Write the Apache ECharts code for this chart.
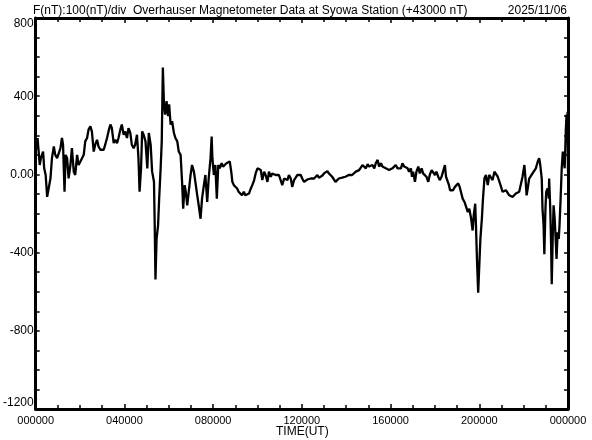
<!DOCTYPE html>
<html><head><meta charset="utf-8">
<script src="https://cdn.jsdelivr.net/npm/echarts@6/dist/echarts.min.js"></script>
<style>html,body{margin:0;padding:0;background:#fff}#c{width:592px;height:440px}</style>
</head><body><div id="c"></div>
<script>
const titleLeft = 'F(nT):100(nT)/div  Overhauser Magnetometer Data at Syowa Station (+43000 nT)';
const titleRight = '2025/11/06';
const xAxisTitle = 'TIME(UT)';
const xTickLabels = ['000000','040000','080000','120000','160000','200000','000000'];
const yTickLabels = ['800','400','0.00','-400','-800','-1200'];

// time of day in minutes (UT)
const minutes = [
0,2,5,11,14,20,23,27,31,35,40,44,49,53,58,62,67,71,74,78,81,85,89,94,98,103,107,112,116,121,
125,130,134,139,143,148,152,157,161,166,170,175,179,184,188,193,197,202,206,211,215,220,224,229,233,238,242,247,251,256,
260,265,269,274,278,281,285,288,292,297,302,306,311,315,320,322,324,327,331,334,338,341,344,347,350,354,358,361,365,369,
374,378,383,387,392,396,399,403,406,410,414,419,423,428,432,437,441,446,450,455,459,464,468,473,476,478,482,486,490,494,
498,503,507,512,516,521,525,529,532,536,540,545,549,554,558,563,567,572,577,582,586,591,595,600,604,609,613,618,622,627,
631,636,640,645,649,654,658,663,667,672,676,681,685,690,694,699,703,708,712,717,721,726,730,735,739,744,748,753,757,762,
766,771,775,780,784,789,793,798,802,807,811,816,820,825,829,834,838,843,847,852,856,861,866,871,875,880,884,889,893,898,
902,907,911,916,920,925,929,934,938,943,947,952,956,961,965,970,974,979,983,988,992,997,1001,1006,1010,1015,1018,1021,1026,1030,
1035,1039,1044,1048,1053,1057,1062,1066,1071,1075,1080,1084,1089,1093,1098,1102,1107,1110,1114,1118,1121,1125,1129,1134,1138,1143,1147,1152,1155,1160,
1164,1169,1173,1178,1182,1185,1189,1191,1194,1197,1200,1203,1207,1210,1214,1218,1223,1227,1232,1236,1241,1245,1250,1254,1259,1263,1268,1272,1277,1281,
1286,1290,1295,1299,1304,1308,1313,1317,1322,1325,1328,1331,1335,1340,1344,1349,1353,1358,1362,1365,1369,1371,1374,1376,1379,1381,1385,1388,1389,1392,
1394,1396,1399,1401,1404,1407,1409,1412,1415,1417,1420,1423,1426,1428,1431,1434,1436,1438,1439,1440
];
// total field minus 43000 nT
const fieldNT = [
120,143,186,48,83,117,31,-3,-115,-124,-20,83,143,100,83,91,134,186,152,-89,100,83,-20,48,134,14,-3,100,48,66,
57,100,169,186,229,246,220,117,152,177,143,126,134,126,152,186,220,255,237,160,177,160,186,229,255,203,220,186,237,212,
152,134,152,203,83,-89,31,220,203,169,31,212,152,14,-38,-262,-537,-330,-262,-124,31,169,547,358,306,375,298,358,255,272,
212,186,169,117,100,-38,-175,-55,-89,-158,-89,-3,48,14,-38,-107,-158,-227,-124,-55,-3,-141,-20,83,194,83,-3,48,-124,48,
31,57,40,48,57,48,66,14,-38,-55,-64,-72,-89,-98,-107,-89,-107,-98,-98,-72,-55,-29,5,31,40,22,-29,14,-3,-38,
14,-12,5,14,-3,-12,-3,-12,-55,-21,-12,-29,-3,-21,-64,-29,-21,-3,-12,-3,-21,-38,-29,-26,-29,-21,-17,-21,-12,-3,
-17,-21,-7,5,-3,17,5,-3,-12,-21,-38,-29,-21,-29,-17,-21,-12,-7,-3,0,-3,5,14,5,22,31,48,40,31,52,
40,31,48,31,57,74,40,57,40,48,31,34,22,14,31,34,48,31,40,31,57,40,48,31,14,31,-12,14,-38,14,
40,5,31,5,14,-12,-38,-3,22,14,-3,14,-12,-29,-12,14,48,-12,-21,-55,-81,-72,-81,-64,-72,-46,-64,-72,-124,-141,
-132,-193,-175,-227,-287,-210,-150,-262,-451,-605,-468,-330,-227,-124,-20,-3,-55,-3,5,-29,14,22,-12,-21,-64,-89,-98,-81,-89,-107,
-98,-115,-124,-98,-107,-89,-81,-12,48,-21,-107,-72,-21,-12,5,-3,31,65,83,48,-21,-175,-262,-408,-175,-89,-72,-124,-21,-175,
-330,-562,-296,-158,-227,-347,-433,-296,-330,-262,-124,31,117,83,31,220,306,272,320,10
];

const seriesData = minutes.map((m, i) => [m, fieldNT[i]]);
const FONT = 'Liberation Sans';

function xAxisCfg(pos, showLabel) {
  return {
    type: 'value', position: pos, min: 0, max: 1440, interval: 240,
    axisLine: { show: true, onZero: false, lineStyle: { color: '#000', width: 3 } },
    axisTick: { show: true, inside: true, length: 5, lineStyle: { color: '#000', width: 1.5 } },
    minorTick: { show: true, splitNumber: 4, length: 4, lineStyle: { color: '#000', width: 1.5 } },
    splitLine: { show: false }, minorSplitLine: { show: false },
    axisLabel: {
      show: showLabel, color: '#000', fontSize: 11, fontFamily: FONT, margin: 6,
      formatter: v => xTickLabels[Math.round(v / 240)]
    }
  };
}
function yAxisCfg(pos, showLabel) {
  return {
    type: 'value', position: pos, min: -1200, max: 800, interval: 400,
    axisLine: { show: true, onZero: false, lineStyle: { color: '#000', width: 3 } },
    axisTick: { show: true, inside: true, length: 4, lineStyle: { color: '#000', width: 1.5 } },
    minorTick: { show: true, splitNumber: 4, length: 4, lineStyle: { color: '#000', width: 1.5 } },
    splitLine: { show: false }, minorSplitLine: { show: false },
    axisLabel: {
      show: showLabel, color: '#000', fontSize: 12, fontFamily: FONT, margin: 2,
      verticalAlignMaxLabel: 'top', verticalAlignMinLabel: 'bottom',
      formatter: v => yTickLabels[Math.round((800 - v) / 400)]
    }
  };
}

const chart = echarts.init(document.getElementById('c'), null, { renderer: 'canvas' });
chart.setOption({
  animation: false,
  backgroundColor: '#fff',
  grid: { left: 35, right: 24, top: 18, bottom: 31, containLabel: false },
  xAxis: [xAxisCfg('bottom', true), xAxisCfg('top', false)],
  yAxis: [yAxisCfg('left', true), yAxisCfg('right', false)],
  graphic: [
    { type: 'text', left: 33, top: 5, style: { text: titleLeft, font: '12px "' + FONT + '"', fill: '#000' } },
    { type: 'text', right: 25, top: 5, style: { text: titleRight, font: '12px "' + FONT + '"', fill: '#000' } },
    { type: 'text', left: 276, top: 426, style: { text: xAxisTitle, font: '12px "' + FONT + '"', fill: '#000' } }
  ],
  series: [{
    type: 'line', xAxisIndex: 0, yAxisIndex: 0, data: seriesData,
    showSymbol: false, symbol: 'none', clip: true,
    lineStyle: { color: '#000', width: 2.3 }
  }]
});
</script>
</body></html>
